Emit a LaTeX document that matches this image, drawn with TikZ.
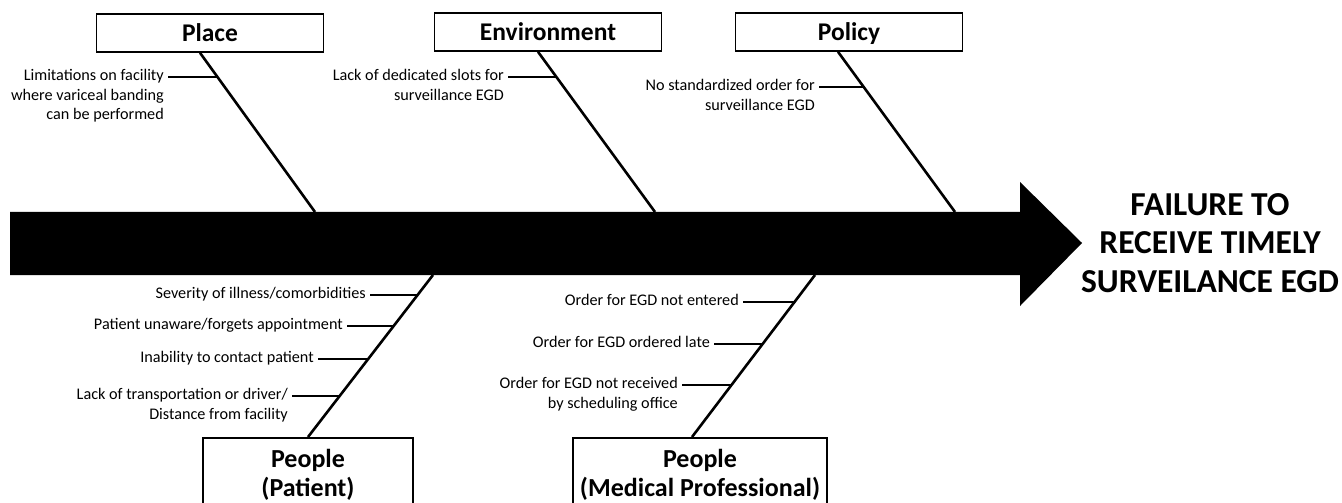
\documentclass[tikz,border=0pt]{standalone}
\usepackage{fontspec}
\setmainfont{Carlito}

\tikzset{
    catbox/.style={draw, line width=1.6bp, minimum width=227bp, minimum height=38bp, inner sep=0pt, text height=22bp, text depth=4bp, font=\fontsize{25.5bp}{30bp}\selectfont\bfseries},
    peoplebox/.style={draw, line width=1.6bp, minimum height=74bp, inner sep=0pt, align=center, anchor=north, font=\fontsize{26bp}{29bp}\selectfont\bfseries},
    cause/.style={anchor=north east, yshift=7.5bp, align=right, inner xsep=4bp, inner ysep=0pt, font=\fontsize{16.2bp}{19.5bp}\selectfont},
    bone/.style={line width=2.6bp},
    twig/.style={line width=2bp}
}

\begin{document}
\begin{tikzpicture}[x=1bp, y=-1bp]
    \useasboundingbox (0,0) rectangle (1342,503);

    % spine
    \fill (10,212) -- (1020,212) -- (1020,182) -- (1082,243) -- (1020,306) -- (1020,275) -- (10,275) -- cycle;
    \node[align=center, font=\fontsize{33.5bp}{38.5bp}\selectfont\bfseries] (effect) at (1210,243) {FAILURE TO\\RECEIVE TIMELY\\SURVEILANCE EGD};

    % categories
    \node[catbox] (place) at (210,33) {Place};
    \node[catbox] (env) at (548,32) {Environment};
    \node[catbox] (policy) at (849,32) {Policy};
    \node[peoplebox, minimum width=210bp] (patient) at (308,437) {People\\(Patient)};
    \node[peoplebox, minimum width=254bp] (medical) at (700,437) {People\\(Medical Professional)};

    \coordinate (s1) at (315,212);
    \coordinate (s2) at (655,212);
    \coordinate (s3) at (955,212);
    \coordinate (s4) at (433,275);
    \coordinate (s5) at (815,275);

    \draw[bone] ([xshift=-10bp]place.south) -- (s1);
    \draw[bone] ([xshift=-10bp]env.south) -- (s2);
    \draw[bone] ([xshift=-11bp]policy.south) -- (s3);
    \draw[bone] (patient.north) -- (s4);
    \draw[bone] ([xshift=-8bp]medical.north) -- (s5);

    % causes
    \node[cause] (c1) at (168,77) {Limitations on facility\\where variceal banding\\can be performed};
    \node[cause] (c2) at (508,77) {Lack of dedicated slots for\\surveillance EGD};
    \node[cause] (c3) at (819,87) {No standardized order for\\surveillance EGD};

    \node[cause] (c4) at (370,295) {Severity of illness/comorbidities};
    \node[cause] (c5) at (347,326) {Patient unaware/forgets appointment};
    \node[cause] (c6) at (318,359) {Inability to contact patient};
    \node[cause] (c7) at (292,396) {Lack of transportation or driver/\\Distance from facility};

    \node[cause] (c8) at (743,302) {Order for EGD not entered};
    \node[cause] (c9) at (714,344) {Order for EGD ordered late};
    \node[cause] (c10) at (682,385) {Order for EGD not received\\by scheduling office};

    \coordinate (b1) at (217,77);
    \coordinate (b2) at (557,77);
    \coordinate (b3) at (865,87);
    \coordinate (b4) at (417,295);
    \coordinate (b5) at (393,326);
    \coordinate (b6) at (368,359);
    \coordinate (b7) at (339,396);
    \coordinate (b8) at (794,302);
    \coordinate (b9) at (762,344);
    \coordinate (b10) at (731,385);

    \foreach \i in {1,...,10}
        \draw[twig] ([yshift=-7.5bp]c\i.north east) -- (b\i);
\end{tikzpicture}
\end{document}
